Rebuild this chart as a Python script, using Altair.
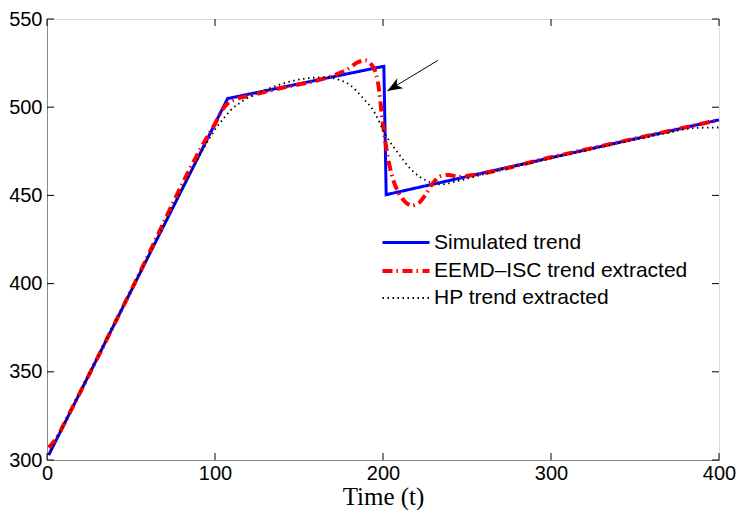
import altair as alt
import pandas as pd

series_names = ["Simulated trend", "EEMD–ISC trend extracted", "HP trend extracted"]
series_colors = ["#0000ff", "#ff0000", "#000000"]

sim_t = [1, 107.5, 200.5, 201.9, 400]
sim_v = [302.8, 504.9, 523.2, 450.4, 492.8]

eemd_t = [1, 6, 12, 50, 95, 100, 104, 108, 113, 120, 140, 160, 172, 179, 185, 189.5,
          194, 197, 200, 203, 206, 209, 213, 217, 221, 225, 229, 234, 239, 245, 255,
          300, 350, 400]
eemd_v = [307, 313, 324, 396, 482.5, 490.5, 498, 502.5, 504.8, 506.4, 511, 515, 518.5,
          521.6, 525.5, 526.5, 523, 514, 490, 471, 459, 452, 446.5, 444.3, 445.5, 450,
          456, 460.8, 461.6, 460.6, 461.8, 471.6, 482.2, 492.8]

hp_t = [1, 50, 88, 94, 100.5, 105, 109, 117, 129, 142.5, 156, 166, 174, 180, 187.5,
        195.3, 201, 209, 216.8, 226.6, 234.4, 244, 260, 300, 340, 370, 385, 400]
hp_v = [303, 396, 467.5, 478, 488, 493.5, 498, 503.8, 509.4, 514, 516.5, 517, 515.5,
        512.8, 505.8, 496.5, 485.2, 474, 464.6, 458, 456.2, 458, 462, 471, 479.5,
        485.5, 488.2, 488.5]

x_ticks = [0, 100, 200, 300, 400]
y_ticks = [300, 350, 400, 450, 500, 550]

arrow_t = [232.6, 202.6]
arrow_v = [526.5, 509.2]

W, H = 672, 441

df_sim = pd.DataFrame({"t": sim_t, "v": sim_v, "series": series_names[0]})
df_eemd = pd.DataFrame({"t": eemd_t, "v": eemd_v, "series": series_names[1]})
df_hp = pd.DataFrame({"t": hp_t, "v": hp_v, "series": series_names[2]})
df_xt = pd.DataFrame({"t": x_ticks})
df_yt = pd.DataFrame({"v": y_ticks})
df_arrow = pd.DataFrame({"t": arrow_t, "v": arrow_v})
df_tip = df_arrow.iloc[[1]]

xscale = alt.Scale(domain=[0, 400], nice=False, zero=False)
yscale = alt.Scale(domain=[300, 550], nice=False, zero=False)
xaxis = alt.Axis(values=x_ticks, ticks=False, grid=False, labelPadding=3,
                 labelFont="Liberation Sans", labelFontSize=20, labelColor="black",
                 labelFlush=False,
                 title="Time (t)", titleFont="Liberation Serif", titleFontSize=25,
                 titleFontWeight="normal", titlePadding=1, titleColor="black")
yaxis = alt.Axis(values=y_ticks, ticks=False, grid=False, labelPadding=5, title=None,
                 labelFont="Liberation Sans", labelFontSize=20, labelColor="black",
                 labelFlush=False)

X = alt.X("t:Q", scale=xscale, axis=xaxis)
Y = alt.Y("v:Q", scale=yscale, axis=yaxis)

legend = alt.Legend(orient="none", legendX=347, legendY=212, title=None,
                    symbolType="M-2.35,0H2.35", symbolSize=400, labelOffset=16,
                    rowPadding=6, padding=0, labelLimit=0,
                    labelFont="Liberation Sans", labelFontSize=21, labelColor="black")

color = alt.Color("series:N", scale=alt.Scale(domain=series_names, range=series_colors),
                  legend=legend)
dash = alt.StrokeDash("series:N", scale=alt.Scale(domain=series_names,
                      range=[[1, 0], [10, 4, 1.5, 4.5], [1.5, 3.5]]), legend=legend)
swidth = alt.StrokeWidth("series:N", scale=alt.Scale(type="ordinal", domain=series_names,
                         range=[3, 4, 1.8]), legend=legend)

def series_layer(df, interp):
    return alt.Chart(df).mark_line(interpolate=interp).encode(
        x=X, y=Y, color=color, strokeDash=dash, strokeWidth=swidth)

blue = series_layer(df_sim, "linear")
red = series_layer(df_eemd, "monotone")
black = series_layer(df_hp, "monotone")

xt_bottom = alt.Chart(df_xt).mark_rule(color="black", strokeWidth=1).encode(
    x=X, y=alt.value(H), y2=alt.value(H - 7))
xt_top = alt.Chart(df_xt).mark_rule(color="black", strokeWidth=1).encode(
    x=X, y=alt.value(0), y2=alt.value(7))
yt_left = alt.Chart(df_yt).mark_rule(color="black", strokeWidth=1).encode(
    y=Y, x=alt.value(0), x2=alt.value(7))
yt_right = alt.Chart(df_yt).mark_rule(color="black", strokeWidth=1).encode(
    y=Y, x=alt.value(W), x2=alt.value(W - 7))

arrow_line = alt.Chart(df_arrow).mark_line(color="black", strokeWidth=1).encode(x=X, y=Y)
arrow_head = alt.Chart(df_tip).mark_point(
    shape="M0,0 L0.65,1.7 L0,1.25 L-0.65,1.7 Z", filled=True, color="black",
    opacity=1, size=310, angle=239, strokeWidth=0).encode(x=X, y=Y)

chart = alt.layer(blue, red, black, xt_bottom, xt_top, yt_left, yt_right,
                  arrow_line, arrow_head).properties(
    width=W, height=H,
    autosize=alt.AutoSizeParams(type="none"),
    padding={"left": 39, "top": 11, "right": 17, "bottom": 50},
).configure_view(stroke="black", strokeWidth=1).configure_axis(
    domainColor="black", domainWidth=1
).configure(background="white")

chart.save("out.html", embed_options={"renderer": "svg", "actions": False})
